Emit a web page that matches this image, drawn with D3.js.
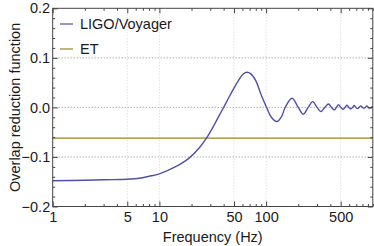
<!DOCTYPE html>
<html>
<head>
<meta charset="utf-8">
<script src="https://cdn.jsdelivr.net/npm/d3@7"></script>
<style>
	body { margin: 0; background: #fff; }
	text { font-family: "Liberation Sans", Arial, sans-serif; }
</style>
</head>
<body>
<div id="chart"></div>
<script>
/***************************************************************************/
/************************************************************ DONNEES *****/
/***************************************************************************/

// Courbe LIGO/Voyager
const freqs = [1, 2, 3, 5, 6.5, 8, 10, 13.3, 16, 19.2, 23.8, 27.5, 32, 36, 40, 45, 50, 55, 60, 66, 72, 80, 90, 101, 112, 126, 140, 151,
	175, 200, 223, 248, 273, 300, 326, 355, 385, 410, 435, 456, 477, 502, 528, 550, 571, 597, 623, 646, 669, 694,
	718, 745, 772, 800, 829, 854, 879, 908, 937, 970, 1000];
const ligo = [-0.148, -0.147, -0.146, -0.145, -0.143, -0.139, -0.134, -0.1226, -0.1135, -0.1014, -0.0808, -0.0627, -0.0387, -0.0181, 0, 0.021, 0.039, 0.054, 0.066, 0.071, 0.0677, 0.054, 0.025, 0, -0.02, -0.0286, -0.018, 0,
	0.0185, 0, -0.0137, 0, 0.0117, 0, -0.0085, 0, 0.007, 0, -0.005, 0, 0.0057, 0, -0.0037, 0, 0.0044, 0, -0.003, 0, 0.0037, 0,
	-0.0024, 0, 0.003, 0, -0.0017, 0, 0.003, 0, -0.001, 0, 0.002];

// Valeur constante ET
const etValue = -0.062;

// Series et legende
const seriesNames = ["LIGO/Voyager", "ET"];
const seriesColors = ["#5050ab", "#9a861c"];

// Graduations
const xMajor = [1, 5, 10, 50, 100, 500];
const xLabels = ["1", "5", "10", "50", "100", "500"];
const yMajor = [-0.2, -0.1, 0, 0.1, 0.2];
const yLabels = ["\u22120.2", "\u22120.1", "0.0", "0.1", "0.2"];
const yGrid = [-0.1, 0, 0.1];

/***************************************************************************/
/************************************************ CREATION DU GRAPHE *****/
/***************************************************************************/

const width = 374, height = 246;
const mLeft = 52.7, mRight = 372.8, mTop = 8.3, mBottom = 206.5;

const svg = d3.select("#chart")
	.append("svg")
	.attr("width", width)
	.attr("height", height);

const x = d3.scaleLog()
	.domain([1, 1000])
	.range([mLeft, mRight]);

const y = d3.scaleLinear()
	.domain([-0.2, 0.2])
	.range([mBottom, mTop]);

// Grille
const grid = svg.append("g");

grid.selectAll("line.v")
	.data(xMajor.slice(1))
	.enter()
	.append("line")
	.attr("x1", d => x(d))
	.attr("x2", d => x(d))
	.attr("y1", mTop)
	.attr("y2", mBottom)
	.style("stroke", "#d4d4d4")
	.style("stroke-width", 1)
	.style("stroke-dasharray", "1,2");

grid.selectAll("line.h")
	.data(yGrid)
	.enter()
	.append("line")
	.attr("x1", mLeft)
	.attr("x2", mRight)
	.attr("y1", d => y(d))
	.attr("y2", d => y(d))
	.style("stroke", "#8c8c8c")
	.style("stroke-width", 1)
	.style("stroke-dasharray", "1,2");

// Courbes
const plot = svg.append("g");

plot.append("line")
	.attr("x1", mLeft)
	.attr("x2", mRight)
	.attr("y1", y(etValue))
	.attr("y2", y(etValue))
	.style("stroke", seriesColors[1])
	.style("stroke-width", 1.4);

const line = d3.line()
	.x((d, i) => x(freqs[i]))
	.y(d => y(d))
	.curve(d3.curveCatmullRom.alpha(0.5));

plot.append("path")
	.datum(ligo)
	.attr("d", line)
	.style("fill", "none")
	.style("stroke", seriesColors[0])
	.style("stroke-width", 1.4);

// Axes (graduations vers l'interieur, style cadre)
const frameColor = "#444";
const fmtX = d => xLabels[xMajor.indexOf(d)];
const fmtY = d => yLabels[yMajor.indexOf(d)];
const minorX = x.ticks().filter(d => !xMajor.includes(d));
const minorY = y.ticks(20).filter(d => !yMajor.some(m => Math.abs(m - d) < 1e-9));

function styleAxis(g) {
	g.selectAll(".domain").remove();
	g.selectAll("line").style("stroke", frameColor);
	g.selectAll("text")
		.style("font-size", "14.5px")
		.style("font-family", "'Liberation Sans', Arial, sans-serif")
		.style("fill", "#1a1a1a");
}

svg.append("g")
	.attr("transform", `translate(0,${mBottom})`)
	.call(d3.axisBottom(x).tickValues(xMajor).tickFormat(fmtX).tickSize(-5).tickPadding(5))
	.call(styleAxis);
svg.append("g")
	.attr("transform", `translate(0,${mBottom})`)
	.call(d3.axisBottom(x).tickValues(minorX).tickFormat("").tickSize(-2.5))
	.call(styleAxis);
svg.append("g")
	.attr("transform", `translate(0,${mTop})`)
	.call(d3.axisTop(x).tickValues(xMajor).tickFormat("").tickSize(-5))
	.call(styleAxis);
svg.append("g")
	.attr("transform", `translate(0,${mTop})`)
	.call(d3.axisTop(x).tickValues(minorX).tickFormat("").tickSize(-2.5))
	.call(styleAxis);

svg.append("g")
	.attr("transform", `translate(${mLeft},0)`)
	.call(d3.axisLeft(y).tickValues(yMajor).tickFormat(fmtY).tickSize(-5).tickPadding(2.5))
	.call(styleAxis);
svg.append("g")
	.attr("transform", `translate(${mLeft},0)`)
	.call(d3.axisLeft(y).tickValues(minorY).tickFormat("").tickSize(-2.5))
	.call(styleAxis);
svg.append("g")
	.attr("transform", `translate(${mRight},0)`)
	.call(d3.axisRight(y).tickValues(yMajor).tickFormat("").tickSize(-5))
	.call(styleAxis);
svg.append("g")
	.attr("transform", `translate(${mRight},0)`)
	.call(d3.axisRight(y).tickValues(minorY).tickFormat("").tickSize(-2.5))
	.call(styleAxis);

// Cadre
svg.append("rect")
	.attr("x", mLeft)
	.attr("y", mTop)
	.attr("width", mRight - mLeft)
	.attr("height", mBottom - mTop)
	.style("fill", "none")
	.style("stroke", frameColor)
	.style("stroke-width", 1);

// Titres des axes
svg.append("text")
	.attr("x", (mLeft + mRight) / 2)
	.attr("y", 241.5)
	.attr("text-anchor", "middle")
	.style("font-size", "14.5px")
	.style("fill", "#1a1a1a")
	.text("Frequency (Hz)");

svg.append("text")
	.attr("transform", `translate(20,${(mTop + mBottom) / 2}) rotate(-90)`)
	.attr("text-anchor", "middle")
	.style("font-size", "14.5px")
	.style("fill", "#1a1a1a")
	.text("Overlap reduction function");

/***************************************************************************/
/*********************************************************** LEGENDE *****/
/***************************************************************************/

const legend = svg.append("g");

const items = legend.selectAll("g")
	.data(seriesNames)
	.enter()
	.append("g")
	.attr("transform", (d, i) => `translate(60,${24 + i * 25})`);

items.append("line")
	.attr("x1", 0)
	.attr("x2", 13)
	.style("stroke", (d, i) => seriesColors[i])
	.style("stroke-width", 1.2);

items.append("text")
	.attr("x", 20)
	.attr("y", 4.5)
	.style("font-size", "14.5px")
	.style("fill", "#1a1a1a")
	.text(d => d);
</script>
</body>
</html>
